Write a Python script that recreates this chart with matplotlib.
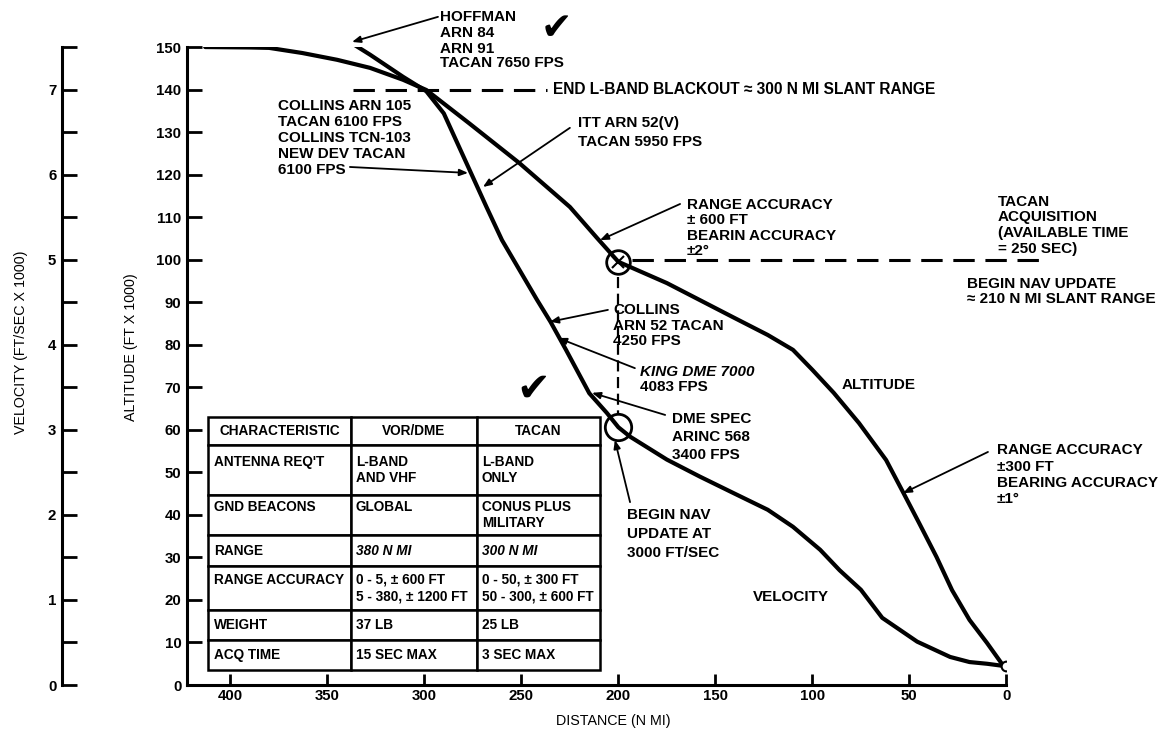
import numpy as np
import matplotlib
matplotlib.use('Agg')
import matplotlib.pyplot as plt
from matplotlib.ticker import MultipleLocator, FuncFormatter

plt.rcParams['font.family'] = ['Liberation Sans', 'DejaVu Sans']
plt.rcParams['font.weight'] = 'bold'

# altitude profile: distance to go (n mi) vs altitude (ft x 1000)
alt_dist = [413, 390, 380, 363, 345, 328, 311, 299, 277, 251, 225, 211, 200, 193,
            175, 158, 141, 123, 110, 100, 89, 76, 62, 53, 45, 36, 28, 19, 10, 0]
alt_kft = [150.0, 149.9, 149.8, 148.6, 147.0, 145.1, 142.3, 139.9, 132.1, 122.7,
           112.4, 105.1, 99.5, 98.1, 94.5, 90.5, 86.5, 82.3, 78.8, 74.1, 68.7,
           61.6, 52.9, 45.1, 38.1, 30.1, 22.3, 15.3, 9.9, 3.5]

# velocity profile: distance to go (n mi) vs velocity (ft/sec x 1000)
vel_dist = [342, 328, 311, 299, 290, 283, 276, 268, 260, 251, 242, 235, 227, 215,
            206, 200, 194, 175, 158, 141, 123, 110, 96, 86, 75, 64, 46, 29, 19, 10, 0]
vel_kfps = [7.61, 7.41, 7.15, 6.98, 6.72, 6.37, 6.02, 5.62, 5.23, 4.88, 4.53, 4.27,
            3.94, 3.43, 3.20, 3.03, 2.92, 2.65, 2.45, 2.26, 2.06, 1.86, 1.59, 1.35,
            1.12, 0.79, 0.51, 0.33, 0.27, 0.25, 0.22]

dist_ticks = [400, 350, 300, 250, 200, 150, 100, 50, 0]
alt_ticks = list(range(0, 151, 10))

nav_update_dist = 200   # n mi, begin nav update
nav_update_alt = 100    # ft x 1000
blackout_alt = 140      # end of L-band blackout

# comparison table
table_cols = ['CHARACTERISTIC', 'VOR/DME', 'TACAN']
table_rows = ["ANTENNA REQ'T", 'GND BEACONS', 'RANGE', 'RANGE ACCURACY', 'WEIGHT', 'ACQ TIME']
table_vor = ['L-BAND\nAND VHF', 'GLOBAL', '380 N MI',
             '0 - 5, \u00b1 600 FT\n5 - 380, \u00b1 1200 FT', '37 LB', '15 SEC MAX']
table_tacan = ['L-BAND\nONLY', 'CONUS PLUS\nMILITARY', '300 N MI',
               '0 - 50, \u00b1 300 FT\n50 - 300, \u00b1 600 FT', '25 LB', '3 SEC MAX']
row_heights = [28, 50, 40, 31, 44, 30, 30]
col_widths = [143, 126, 123]


fig = plt.figure(figsize=(11.75, 7.35), dpi=100)
ax = fig.add_axes([0.1591, 0.0680, 0.6974, 0.8680])
ax.plot(alt_dist, alt_kft, color='black', lw=3, solid_capstyle='round', zorder=3)
ax.set_xlim(422.4, 0)
ax.set_ylim(0, 150)
ax.set_xticks(dist_ticks)
ax.set_yticks(alt_ticks)
for side in ['top', 'right']:
    ax.spines[side].set_visible(False)
for side in ['left', 'bottom']:
    ax.spines[side].set_linewidth(2.2)
ax.tick_params(axis='y', direction='in', length=11, width=2, pad=4, labelsize=10.8)
ax.tick_params(axis='x', direction='in', length=8, width=2, pad=3, labelsize=10.8)
ax.set_xlabel('DISTANCE (N MI)', fontsize=10.3)
ax.xaxis.set_label_coords(0.52, -0.045)
ax.set_ylabel('ALTITUDE (FT X 1000)', fontsize=10.3)
ax.yaxis.set_label_coords(-0.060, 0.53)

# velocity on its own offset scale
ax2 = ax.twinx()
ax2.set_ylim(0, 7.5)
ax2.plot(vel_dist, vel_kfps, color='black', lw=3, solid_capstyle='round', zorder=3)
for side in ['top', 'right', 'bottom']:
    ax2.spines[side].set_visible(False)
ax2.spines['left'].set_visible(True)
ax2.spines['left'].set_position(('axes', -0.1526))
ax2.spines['left'].set_linewidth(2.2)
ax2.yaxis.tick_left()
ax2.yaxis.set_label_position('left')
ax2.yaxis.set_major_locator(MultipleLocator(0.5))
ax2.yaxis.set_major_formatter(FuncFormatter(lambda v, p: '%d' % v if v == int(v) else ''))
ax2.tick_params(axis='y', direction='in', length=11, width=2, pad=4, labelsize=10.8)
ax2.set_ylabel('VELOCITY (FT/SEC X 1000)', fontsize=10.3)
ax2.yaxis.set_label_coords(-0.194, 0.538)

# nav update markers
upd_alt = np.interp(nav_update_dist, alt_dist[::-1], alt_kft[::-1])
upd_vel = np.interp(nav_update_dist, vel_dist[::-1], vel_kfps[::-1])
ax.plot(nav_update_dist, upd_alt, 'o', ms=17, mfc='none', mec='black', mew=2, zorder=5)
ax.plot(nav_update_dist, upd_alt, 'x', ms=9, mec='black', mew=1.5, zorder=5)
ax2.plot(nav_update_dist, upd_vel, 'o', ms=19, mfc='none', mec='black', mew=2, zorder=5)
ax2.plot(vel_dist[-1], vel_kfps[-1], 'o', ms=7, mfc='white', mec='black', mew=1.5, zorder=5)

# dashed reference lines
dash = dict(color='black', lw=2.2, dashes=(7, 3.5), clip_on=False)
ax.plot([337, 237], [blackout_alt, blackout_alt], **dash)
ax.plot([193, -21.5], [nav_update_alt, nav_update_alt], **dash)
ax.plot([nav_update_dist, nav_update_dist], [96, 64], color='black', lw=1.6,
        dashes=(5, 2.5), clip_on=False)


def note(x, y, s, ls=1.2, **kw):
    ax.text(x, y, s, fontsize=11, ha='left', va='top', linespacing=ls, **kw)


def arrow(start, end):
    ax.annotate('', xy=end, xytext=start, annotation_clip=False,
                arrowprops=dict(arrowstyle='-|>,head_length=0.5,head_width=0.2',
                                lw=1.3, color='black', shrinkA=0, shrinkB=0))


note(292.0, 158.8, 'HOFFMAN\nARN 84\nARN 91', ls=1.22)
note(292.0, 147.8, 'TACAN 7650 FPS')
arrow((293.0, 157.1), (337.3, 151.2))
ax.text(233.7, blackout_alt, 'END L-BAND BLACKOUT \u2248 300 N MI SLANT RANGE',
        fontsize=11.2, ha='left', va='center')
note(375.5, 137.9, 'COLLINS ARN 105\nTACAN 6100 FPS\nCOLLINS TCN-103\nNEW DEV TACAN\n6100 FPS')
arrow((338.4, 121.8), (277.5, 120.4))
note(220.8, 133.7, 'ITT ARN 52(V)\nTACAN 5950 FPS', ls=1.4)
arrow((225.0, 131.0), (269.8, 117.1))
note(164.6, 114.6, 'RANGE ACCURACY\n\u00b1 600 FT\nBEARIN ACCURACY\n\u00b12\u00b0', ls=1.14)
arrow((168.2, 113.1), (209.5, 104.6))
note(4.3, 115.3, 'TACAN\nACQUISITION\n(AVAILABLE TIME\n= 250 SEC)', ls=1.17)
note(20.3, 96.05, 'BEGIN NAV UPDATE\n\u2248 210 N MI SLANT RANGE', ls=1.17)
note(202.8, 89.9, 'COLLINS\nARN 52 TACAN\n4250 FPS', ls=1.17)
arrow((205.4, 88.2), (235.3, 85.4))
ax.text(188.9, 73.6, 'KING DME 7000', fontsize=11, ha='left', va='center', style='italic')
ax.text(188.9, 70.1, '4083 FPS', fontsize=11, ha='left', va='center')
arrow((191.5, 74.5), (231.1, 81.6))
note(172.4, 64.3, 'DME SPEC\nARINC 568\n3400 FPS', ls=1.4)
arrow((175.9, 63.5), (213.6, 68.7))
note(195.6, 41.7, 'BEGIN NAV\nUPDATE AT\n3000 FT/SEC', ls=1.48)
arrow((194.0, 43.0), (201.8, 57.6))
note(4.8, 56.8, 'RANGE ACCURACY\n\u00b1300 FT\nBEARING ACCURACY\n\u00b11\u00b0', ls=1.19)
arrow((9.5, 54.8), (53.3, 45.1))
ax.text(84.7, 70.5, 'ALTITUDE', fontsize=11, ha='left', va='center')
ax.text(130.6, 20.7, 'VELOCITY', fontsize=11, ha='left', va='center')

# check marks
ax.text(232.0, 154.2, '\u2714', fontsize=27, ha='center', va='center', family='DejaVu Sans')
ax.text(244.0, 69.4, '\u2714', fontsize=29, ha='center', va='center', family='DejaVu Sans')

# comparison table
body = []
for row in zip(table_rows, table_vor, table_tacan):
    if any('\n' in cell for cell in row):
        row = [cell if '\n' in cell else cell + '\n ' for cell in row]
    body.append(list(row))
tab = ax.table(cellText=body, colLabels=table_cols, colWidths=col_widths,
               cellLoc='left', bbox=[0.0256, 0.0235, 0.4784, 0.3966])
tab.auto_set_font_size(False)
tab.set_fontsize(9.8)
for (r, c), cell in tab.get_celld().items():
    cell.set_linewidth(1.8)
    cell.set_height(row_heights[r])
    cell.PAD = 0.04
    txt = cell.get_text()
    txt.set_fontweight('bold')
    txt.set_linespacing(1.2)
    if r == 0:
        txt.set_horizontalalignment('center')
    elif table_rows[r - 1] == 'RANGE' and c > 0:
        txt.set_fontstyle('italic')

fig.savefig('out.png', dpi=100)
